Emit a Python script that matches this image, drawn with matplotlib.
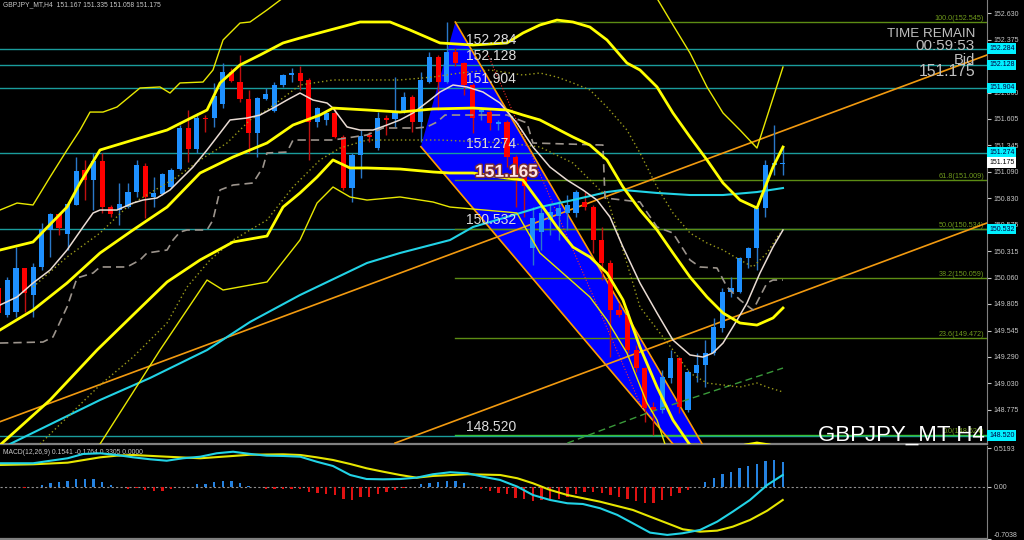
import numpy as np
import matplotlib
matplotlib.use('Agg')
import matplotlib.pyplot as plt
from matplotlib.patches import Polygon
from matplotlib import transforms
import matplotlib.patheffects as pe

plt.rcParams['font.family'] = ['Liberation Sans', 'DejaVu Sans']

# ---- candles (H4), first bar is index -1 ----
opens = [149.958, 149.696, 149.728, 150.150, 149.890, 150.160, 150.523, 150.675, 150.484, 150.766,
         151.106, 151.009, 151.197, 150.749, 150.717, 150.749, 150.889, 151.148, 150.847, 150.873,
         150.938, 151.113, 151.518, 151.311, 151.615, 151.609, 151.745, 152.057, 151.965, 151.794,
         151.463, 151.794, 151.680, 151.930, 152.027, 152.050, 151.982, 151.570, 151.593, 151.658,
         151.430, 150.934, 151.252, 151.444, 151.317, 151.609, 151.599, 151.673, 151.819, 151.570,
         151.965, 152.203, 151.965, 152.257, 152.144, 151.933, 151.668, 151.673, 151.554, 151.576,
         151.236, 151.058, 150.345, 150.503, 150.620, 150.659, 150.688, 150.685, 150.798, 150.749,
         150.425, 150.199, 149.744, 149.696, 149.355, 149.177, 148.800, 148.771, 149.080, 149.274,
         148.771, 149.128, 149.209, 149.323, 149.566, 149.922, 149.922, 150.247, 150.345, 150.734,
         151.155, 151.167]
highs = [149.988, 150.065, 150.360, 150.153, 150.199, 150.588, 150.685, 150.685, 150.782, 151.236,
         151.204, 151.269, 151.269, 150.766, 150.977, 150.977, 151.204, 151.171, 151.041, 151.074,
         151.123, 151.544, 151.690, 151.664, 151.641, 151.950, 152.144, 152.096, 152.225, 151.885,
         151.819, 151.901, 151.965, 152.040, 152.096, 152.118, 151.998, 151.722, 151.673, 151.706,
         151.447, 151.269, 151.495, 151.479, 151.673, 151.641, 152.014, 151.868, 151.836, 152.063,
         152.257, 152.225, 152.545, 152.293, 152.160, 151.953, 151.722, 151.706, 151.593, 151.593,
         151.252, 151.074, 150.749, 150.766, 150.766, 150.814, 150.863, 150.912, 150.895, 150.766,
         150.555, 150.231, 149.812, 149.744, 149.404, 149.193, 148.850, 149.161, 149.355, 149.290,
         149.161, 149.323, 149.452, 149.664, 149.955, 150.068, 150.263, 150.360, 150.749, 151.204,
         151.544, 151.335]
lows = [149.667, 149.676, 149.679, 149.728, 149.679, 150.133, 150.263, 150.474, 150.328, 150.766,
        150.814, 150.717, 150.685, 150.652, 150.571, 150.734, 150.847, 150.636, 150.749, 150.863,
        150.928, 151.106, 151.187, 151.269, 151.479, 151.527, 151.706, 151.965, 151.771, 151.269,
        151.236, 151.787, 151.673, 151.917, 151.965, 151.885, 151.204, 151.527, 151.544, 151.415,
        150.912, 150.798, 151.025, 151.382, 151.301, 151.447, 151.527, 151.658, 151.479, 151.382,
        151.950, 151.690, 151.950, 152.118, 151.836, 151.463, 151.593, 151.495, 151.495, 151.138,
        150.749, 150.652, 150.182, 150.328, 150.474, 150.425, 150.523, 150.652, 150.717, 150.299,
        150.036, 149.290, 149.679, 149.326, 149.141, 148.658, 148.524, 148.742, 149.034, 148.742,
        148.755, 149.047, 148.998, 149.307, 149.533, 149.874, 149.907, 150.150, 150.133, 150.652,
        151.058, 151.058]
closes = [149.715, 150.036, 150.150, 149.907, 150.160, 150.532, 150.675, 150.539, 150.776, 151.099,
          151.009, 151.197, 150.749, 150.678, 150.776, 150.895, 151.155, 150.847, 150.880, 151.064,
          151.106, 151.518, 151.311, 151.609, 151.602, 151.826, 152.057, 151.975, 151.794, 151.463,
          151.804, 151.843, 151.936, 152.027, 152.050, 151.975, 151.570, 151.706, 151.658, 151.430,
          150.934, 151.252, 151.437, 151.430, 151.609, 151.593, 151.673, 151.819, 151.570, 151.982,
          152.203, 151.965, 152.257, 152.144, 151.933, 151.609, 151.690, 151.561, 151.576, 151.236,
          151.041, 150.954, 150.636, 150.688, 150.701, 150.737, 150.766, 150.895, 150.749, 150.425,
          150.199, 149.744, 149.696, 149.355, 149.180, 148.788, 148.770, 149.095, 149.274, 148.804,
          149.144, 149.209, 149.323, 149.582, 149.922, 149.955, 150.247, 150.345, 150.734, 151.155,
          151.171, 151.175]

# ---- indicator lines, read as (bar, price) ----
bb_up_x = [-0.85, 2.98, 6.93, 8.44, 10.76, 14.59, 18.54, 20.86, 23.18, 24.69, 27.01, 29.33, 32.0, 33.97,
           37.45, 40.94, 44.42, 46.74, 50.22, 54.05, 57.99, 59.85, 61.82, 63.8, 65.65, 67.62, 69.6,
           71.92, 73.43, 75.41, 77.26, 79.24, 81.21, 83.07, 85.04, 87.01, 88.87, 90.03]
bb_up = [150.328, 150.406, 150.746, 150.980, 151.301, 151.398, 151.495, 151.593, 151.690, 151.953, 152.128,
         152.225, 152.342, 152.390, 152.468, 152.546, 152.546, 152.468, 152.342, 152.322, 152.342, 152.439,
         152.517, 152.565, 152.546, 152.497, 152.371, 152.147, 152.079, 151.914, 151.661, 151.427, 151.204,
         150.980, 150.814, 150.737, 151.135, 151.330]
bb_mid_x = [-0.85, 2.98, 6.93, 10.76, 14.59, 18.54, 22.37, 26.2, 30.14, 33.16, 36.29, 37.8, 41.75, 45.58,
            49.41, 54.05, 57.99, 59.85, 61.82, 65.65, 67.62, 69.6, 71.46, 73.43, 75.41, 77.26, 79.24,
            81.21, 83.07, 85.04, 87.01, 88.87, 90.03]
bb_mid = [149.550, 149.744, 150.007, 150.299, 150.523, 150.746, 151.077, 151.233, 151.369, 151.544, 151.641,
          151.709, 151.690, 151.670, 151.700, 151.709, 151.690, 151.641, 151.593, 151.427, 151.349, 151.204,
          150.941, 150.717, 150.523, 150.299, 150.065, 149.871, 149.715, 149.618, 149.598, 149.667, 149.764]
bb_lo_x = [-0.85, 4.96, 10.41, 14.59, 18.54, 22.37, 26.2, 30.14, 32.0, 33.97, 35.95, 37.8, 39.78,
           41.75, 45.58, 49.41, 51.38, 54.05, 57.99, 59.85, 61.82, 63.8, 65.65, 67.62, 69.6, 71.46, 73.43,
           75.41, 77.26, 79.24, 82.72, 85.62, 87.01, 88.52, 90.03]
bb_lo = [148.431, 148.869, 149.355, 149.696, 150.017, 150.231, 150.406, 150.464, 150.746, 150.883,
         151.038, 151.204, 151.126, 151.126, 151.116, 151.087, 151.077, 151.077, 151.028, 151.009, 150.785,
         150.552, 150.357, 150.260, 150.104, 149.842, 149.384, 148.995, 148.674, 148.431, 148.363, 148.431,
         148.451, 148.431, 148.334]
bb3_up_x = [-0.85, 1.13, 2.98, 4.96, 6.93, 8.44, 9.6, 11.11, 12.73, 15.4, 17.72, 18.88, 20.04, 22.71,
            23.87, 25.04, 27.01, 28.17, 30.14, 32.46, np.nan, 75.17, 76.91, 79.24, 81.21, 83.07, 85.04,
            87.01, 90.03]
bb3_up = [150.717, 150.785, 150.766, 151.038, 151.301, 151.495, 151.670, 151.670, 151.719, 151.904, 151.914,
          151.855, 151.953, 151.962, 152.079, 152.371, 152.536, 152.546, 152.663, 152.809, np.nan, 152.809,
          152.565, 152.244, 151.914, 151.661, 151.495, 151.320, 152.108]
bb3_lo_x = [10.76, 17.72, 23.18, 25.04, 30.14, 33.97, 35.95, 37.8, 39.78, 41.75, 45.58, 49.41, 51.38,
            57.99, 59.15, 61.82, 67.62, 69.6, 71.92, 74.24, 75.41, 76.33]
bb3_lo = [148.441, 149.355, 150.036, 149.939, 150.017, 150.425, 150.785, 150.941, 150.844, 150.814, 150.844,
          150.795, 150.746, 150.698, 150.688, 150.299, 149.871, 149.647, 149.326, 148.840, 148.674, 148.441]

ma_fast_x = [-0.85, 1.13, 2.98, 4.96, 6.93, 8.79, 9.95, 10.76, 12.73, 14.59, 15.75, 17.37, 18.88, 20.04,
             21.55, 23.18, 24.69, 25.85, 27.82, 29.33, 30.84, 32.46, 33.97, 35.48, 37.11, 37.8, 39.43,
             40.94, 42.45, 44.07, 45.58, 47.09, 49.06, 50.22, 51.73, 53.36, 55.21, 57.18, 59.15, 61.01,
             62.99, 64.96, 66.81, 68.44, 69.95, 71.46, 73.43, 75.41, 77.26, 79.24, 80.74, 81.9, 83.07,
             84.7, 85.85, 87.36, 88.87, 90.03]
ma_fast = [149.793, 149.871, 150.007, 150.133, 150.328, 150.552, 150.688, 150.717, 150.717, 150.785, 150.814,
           150.834, 150.912, 151.009, 151.135, 151.301, 151.466, 151.593, 151.612, 151.641, 151.709, 151.787,
           151.855, 151.787, 151.758, 151.709, 151.525, 151.495, 151.495, 151.544, 151.593, 151.661, 151.787,
           151.865, 151.933, 151.914, 151.865, 151.758, 151.563, 151.330, 151.135, 151.009, 150.912, 150.814,
           150.649, 150.357, 150.007, 149.715, 149.452, 149.307, 149.287, 149.326, 149.423, 149.647, 149.812,
           150.104, 150.357, 150.523]
kijun_x = [-0.85, 4.14, 5.3, 6.93, 8.09, 9.95, 10.76, 13.89, 15.4, 16.21, 18.54, 19.23, 20.04, 20.86,
           23.18, 23.87, 24.69, 26.2, 28.52, 29.68, 30.14, 32.46, 33.16, 37.8, 41.75, 43.6, 47.55, 48.71,
           49.87, 50.8, 57.99, 60.32, 61.01, 69.13, 69.37, 73.43, 75.41, 77.26, 79.24, 80.4, 82.37, 83.54,
           85.04, 86.55, 88.17, 88.87, 90.03]
kijun = [149.423, 149.433, 149.482, 149.774, 150.056, 150.104, 150.163, 150.163, 150.231, 150.299, 150.328,
         150.425, 150.503, 150.523, 150.523, 150.620, 150.912, 150.960, 150.980, 151.135, 151.272, 151.281,
         151.398, 151.398, 151.447, 151.515, 151.515, 151.525, 151.573, 151.641, 151.641, 151.563, 151.369,
         151.349, 150.834, 150.795, 150.552, 150.493, 150.231, 150.163, 150.153, 149.968, 149.842, 149.744,
         150.007, 150.036, 150.036]
ma_mid_x = [2.98, 6.93, 10.76, 13.89, 16.56, 19.7, 22.37, 25.5, 28.17, 30.14, 33.97, 37.8, 41.75, 45.58,
            49.41, 52.54, 56.02, 59.85, 61.82, 63.8, 65.65, 67.62, 69.6, 71.92, 73.43, 75.41, 77.26, 79.24,
            81.21, 83.07, 85.04, 86.55, 88.17, 89.68]
ma_mid = [149.968, 150.260, 150.493, 150.746, 150.883, 151.038, 151.204, 151.369, 151.593, 151.690, 151.933,
          151.982, 151.982, 151.982, 152.011, 152.050, 152.079, 152.030, 152.050, 152.011, 151.953, 151.885,
          151.719, 151.495, 151.272, 150.941, 150.688, 150.493, 150.396, 150.328, 150.231, 150.163, 150.299,
          150.493]
ma_slow_x = [3.8, 10.76, 14.59, 18.54, 20.86, 23.53, 26.2, 30.14, 33.16, 36.29, 38.61, 41.75, 45.58, 50.22,
             57.99, 61.82, 65.65, 69.6, 71.46, 73.43, 77.26, 79.24, 81.21, 85.04, 87.01, 88.17, 90.03]
ma_slow = [148.441, 149.015, 149.287, 149.618, 149.968, 150.231, 150.425, 150.620, 150.941, 151.204, 151.320,
           151.398, 151.398, 151.398, 151.369, 151.330, 151.174, 150.844, 150.328, 149.774, 149.355, 149.131,
           149.034, 148.995, 149.034, 148.995, 148.947]
ma_long_x = [0.31, 10.76, 16.56, 23.18, 28.17, 33.97, 41.75, 45.58, 51.38, 54.05, 57.99, 61.82, 65.65, 69.6,
             71.46, 75.41, 79.24, 83.07, 87.01, 90.03]
ma_long = [148.441, 148.869, 149.083, 149.355, 149.628, 149.890, 150.202, 150.299, 150.425, 150.552, 150.649,
           150.746, 150.814, 150.892, 150.912, 150.883, 150.863, 150.863, 150.892, 150.931]
ma_green_x = [63.8, 74.59, 90.03]
ma_green = [148.412, 148.752, 149.180]

# ---- drawn objects ----
hline_prices = [152.284, 152.128, 151.904, 151.274, 150.532, 148.520]
fib_pct = [100.0, 61.8, 50.0, 38.2, 23.6, 0.0]
fib_prices = [152.545, 151.009, 150.534, 150.059, 149.472, 148.524]
trend_a = [(-0.85, 148.658), (113.71, 152.225)]
trend_b = [(45.0, 148.450), (113.71, 150.591)]
pattern = [(52.0, 152.545), (48.0, 151.333), (80.8, 148.091), (83.1, 148.091)]
pattern_mid = [(55.7, 152.244), (73.4, 148.840)]

# ---- MACD(12,26,9) ----
hist = [0.0, -0.009, -0.009, -0.022, -0.009, 0.022, 0.054, 0.067, 0.081, 0.099,
        0.103, 0.108, 0.067, 0.022, -0.009, -0.031, -0.022, -0.045, -0.054, -0.054,
        -0.036, -0.005, -0.003, 0.036, 0.040, 0.063, 0.081, 0.072, 0.054, 0.004,
        -0.009, -0.027, -0.031, -0.031, -0.031, -0.031, -0.067, -0.090, -0.099, -0.112,
        -0.166, -0.179, -0.143, -0.134, -0.099, -0.076, -0.045, -0.018, -0.009, 0.031,
        0.054, 0.058, 0.076, 0.072, 0.054, -0.009, -0.036, -0.058, -0.090, -0.103,
        -0.148, -0.166, -0.193, -0.179, -0.179, -0.166, -0.134, -0.099, -0.076, -0.076,
        -0.081, -0.112, -0.134, -0.161, -0.193, -0.215, -0.224, -0.184, -0.125, -0.090,
        -0.045, -0.005, 0.058, 0.112, 0.170, 0.202, 0.246, 0.278, 0.304, 0.345,
        0.354, 0.3305]
macd_x = [-0.85, 3, 5, 7, 8.8, 10.8, 12.7, 14.6, 16.6, 18.5, 20.4, 22.4, 24.3, 26.2, 28.2, 30.1, 32, 34,
          35.9, 37.8, 39.8, 41.7, 43.6, 45.6, 47.5, 49.4, 51.4, 53.4, 55.2, 57.2, 59.2, 61, 63, 65, 66.8,
          68.8, 70.8, 72.6, 74.6, 76.6, 78.4, 80.4, 82.4, 84.2, 86.2, 88.2, 90]
macd_main = [0.315, 0.315, 0.349, 0.382, 0.440, 0.449, 0.426, 0.395, 0.368, 0.349, 0.382, 0.403, 0.449,
             0.470, 0.440, 0.417, 0.413, 0.403, 0.336, 0.278, 0.157, 0.103, 0.099, 0.103, 0.121, 0.167,
             0.194, 0.180, 0.134, 0.090, 0.000, -0.112, -0.179, -0.223, -0.233, -0.290, -0.380, -0.492,
             -0.618, -0.649, -0.626, -0.582, -0.470, -0.336, -0.179, 0.023, 0.157]
signal_x = [-0.85, 3, 7, 10.8, 12.7, 14.6, 18.5, 22.4, 26.2, 28.2, 32, 34, 35.9, 37.8, 39.8, 41.7, 43.6,
            45.6, 47.5, 49.4, 53.4, 57.2, 59.2, 61, 63, 65, 68.8, 72.6, 74.6, 76.6, 78.4, 80.4, 82.4,
            84.2, 86.2, 88.2, 90]
signal = [0.292, 0.301, 0.323, 0.395, 0.417, 0.426, 0.403, 0.382, 0.413, 0.430, 0.435, 0.426, 0.395,
          0.359, 0.305, 0.247, 0.202, 0.157, 0.121, 0.144, 0.167, 0.157, 0.113, 0.046, -0.044, -0.112,
          -0.202, -0.313, -0.403, -0.492, -0.573, -0.605, -0.591, -0.538, -0.448, -0.323, -0.179]

price_ticks = [152.630, 152.375, 152.115, 151.860, 151.605, 151.345, 151.090, 150.830, 150.575,
               150.315, 150.060, 149.805, 149.545, 149.290, 149.030, 148.775]
hidden_ticks = [152.115]          # fully covered by the 152.128 marker
bid = 151.175

# ------------------------------------------------------------------
BG = 'black'
AXC = '#808080'
TXT = '#c8c8c8'
XMIN, XMAX = -0.85, 113.71

fig = plt.figure(figsize=(10.24, 5.4), dpi=100, facecolor=BG)
ax = fig.add_axes([0, 96 / 540, 987 / 1024, 444 / 540], facecolor=BG)
ax2 = fig.add_axes([0, 1 / 540, 987 / 1024, 93 / 540], facecolor=BG)

for a in (ax, ax2):
    a.set_xlim(XMIN, XMAX)
    a.set_xticks([])
    for s in ('top', 'left'):
        a.spines[s].set_visible(False)
    a.spines['right'].set_color(AXC)
    a.spines['bottom'].set_color(AXC)
    a.yaxis.tick_right()
    a.tick_params(axis='y', colors=TXT, labelsize=5.0, length=3, width=0.8, pad=2)
ax.spines['bottom'].set_linewidth(1.6)
ax2.spines['bottom'].set_linewidth(1.6)

ax.set_ylim(148.441, 152.760)
ax.set_yticks(price_ticks)
ax.set_yticklabels(['' if t in hidden_ticks else '%.3f' % t for t in price_ticks])

bars = np.arange(len(opens)) - 1
o = np.array(opens); c = np.array(closes); h = np.array(highs); l = np.array(lows)
up = c >= o

# pattern (drawn behind the bars)
ax.add_patch(Polygon(pattern, closed=True, facecolor='#0000ff', edgecolor='none', zorder=1))
ax.plot([pattern[0][0], pattern[3][0]], [pattern[0][1], pattern[3][1]], color='#ff9c00', lw=1.2, zorder=3)
ax.plot([pattern[1][0], pattern[2][0]], [pattern[1][1], pattern[2][1]], color='#ff9c00', lw=1.2, zorder=3)
ax.plot([p[0] for p in pattern_mid], [p[1] for p in pattern_mid], color='#ff3030', lw=0.8, ls=':', zorder=3)

# horizontal lines and fibo
btr = transforms.blended_transform_factory(ax.transAxes, ax.transData)
for p in hline_prices:
    ax.axhline(p, color='#1a9c9c', lw=1.0, zorder=2)
for pct, p in zip(fib_pct, fib_prices):
    col = '#38c038' if pct == 0.0 else '#5c8c14'
    ax.plot([52.0, XMAX], [p, p], color=col, lw=1.0, zorder=2)
    ax.text(0.997, p, '%.1f(%.3f)' % (pct, p), transform=btr,
            ha='right', va='bottom', fontsize=5.2, color='#6f9a1c', zorder=3)

# trend lines
for t in (trend_a, trend_b):
    ax.plot([t[0][0], t[1][0]], [t[0][1], t[1][1]], color='#f29a10', lw=1.2, zorder=3)

# candles
wick_col = np.where(up, '#2a78c8', '#c01010')
body_col = np.where(up, '#1e90ff', '#ff0000')
ax.vlines(bars, l, h, colors=wick_col, lw=1.0, zorder=4)
body_h = np.maximum(np.abs(c - o), 0.008)
ax.bar(bars, body_h, bottom=np.minimum(o, c), width=0.6, color=body_col, linewidth=0, zorder=5)

# indicator lines
ax.plot(ma_long_x, ma_long, color='#22d3e6', lw=1.5, zorder=6)
ax.plot(ma_green_x, ma_green, color='#3a9a3a', lw=1.0, ls=(0, (5, 3)), zorder=6)
ax.plot(ma_slow_x, ma_slow, color='#9a9a1a', lw=1.0, ls=(0, (1, 2)), zorder=6)
ax.plot(ma_mid_x, ma_mid, color='#9a9a1a', lw=1.0, ls=(0, (1, 2)), zorder=6)
ax.plot(kijun_x, kijun, color='#9c948c', lw=1.2, ls=(0, (5, 3)), zorder=6)
ax.plot(ma_fast_x, ma_fast, color='#eadcd4', lw=1.1, zorder=6)
ax.plot(bb3_up_x, bb3_up, color='#e8e800', lw=1.0, zorder=6)
ax.plot(bb3_lo_x, bb3_lo, color='#e8e800', lw=1.0, zorder=6)
ax.plot(bb_up_x, bb_up, color='#ffff00', lw=2.0, zorder=6)
ax.plot(bb_mid_x, bb_mid, color='#ffff00', lw=2.0, zorder=6)
ax.plot(bb_lo_x, bb_lo, color='#ffff00', lw=2.0, zorder=6)

# price labels on the lines
for p in hline_prices:
    ax.annotate('%.3f' % p, xy=(53.24, p), xytext=(0, 1.5), textcoords='offset points',
                ha='left', va='bottom', fontsize=10, color='#dcdcdc', zorder=8)
ax.annotate('151.165', xy=(54.3, 151.165), xytext=(0, -6), textcoords='offset points',
            ha='left', va='center', fontsize=12.5, fontweight='bold', color='#ffe6e6', zorder=8,
            path_effects=[pe.withStroke(linewidth=2, foreground='#7a3030')])

# axis boxes
for p in hline_prices:
    ax.text(1.002, p, '%.3f' % p, transform=btr, ha='left', va='center', fontsize=5.0, color='#000040',
            bbox=dict(boxstyle='square,pad=0.28', fc='#00f0ff', ec='none'), clip_on=False, zorder=9)
ax.text(1.002, bid, '%.3f' % bid, transform=btr, ha='left', va='center', fontsize=5.0, color='black',
        bbox=dict(boxstyle='square,pad=0.28', fc='white', ec='none'), clip_on=False, zorder=9)

# texts
ax.text(0.003, 0.997, 'GBPJPY_MT,H4  151.167 151.335 151.058 151.175', transform=ax.transAxes,
        ha='left', va='top', fontsize=4.9, color=TXT)
ax.text(975 / 987, 1 - 34 / 444, 'TIME REMAIN', transform=ax.transAxes, ha='right', va='center',
        fontsize=9.6, color='#c0c0c0')
ax.text(975 / 987, 1 - 45.5 / 444, '00:59:53', transform=ax.transAxes, ha='right', va='center',
        fontsize=11, color='#c0c0c0')
ax.text(975 / 987, 1 - 60 / 444, 'Bid', transform=ax.transAxes, ha='right', va='center',
        fontsize=10.5, color='#c0c0c0')
ax.text(975 / 987, 1 - 72 / 444, '%.3f' % bid, transform=ax.transAxes, ha='right', va='center',
        fontsize=11.3, color='#c0c0c0')
ax.text(985 / 987, 3 / 444, 'GBPJPY_MT H4', transform=ax.transAxes, ha='right', va='baseline',
        fontsize=16, color='white', zorder=9)

# MACD panel
ax2.set_ylim(-0.703, 0.547)
ax2.set_yticks([0.5193, 0.0, -0.7038])
ax2.set_yticklabels(['0.5193', '0.00', '-0.7038'])
ax2.get_yticklabels()[2].set_va('bottom')
hv = np.array(hist)
ax2.bar(bars, hv, width=0.28, color=np.where(hv >= 0, '#2582e0', '#e01212'), linewidth=0, zorder=2)
ax2.axhline(0, color='#909090', lw=0.8, ls=(0, (2, 2)), zorder=1)
ax2.plot(signal_x, signal, color='#e6e600', lw=1.5, zorder=3)
ax2.plot(macd_x, macd_main, color='#22d3e6', lw=1.5, zorder=4)
ax2.text(0.003, 0.97, 'MACD(12,26,9) 0.1541 -0.1764 0.3305 0.0000', transform=ax2.transAxes,
         ha='left', va='top', fontsize=4.9, color=TXT)

fig.savefig('out.png', dpi=100, facecolor=BG)
